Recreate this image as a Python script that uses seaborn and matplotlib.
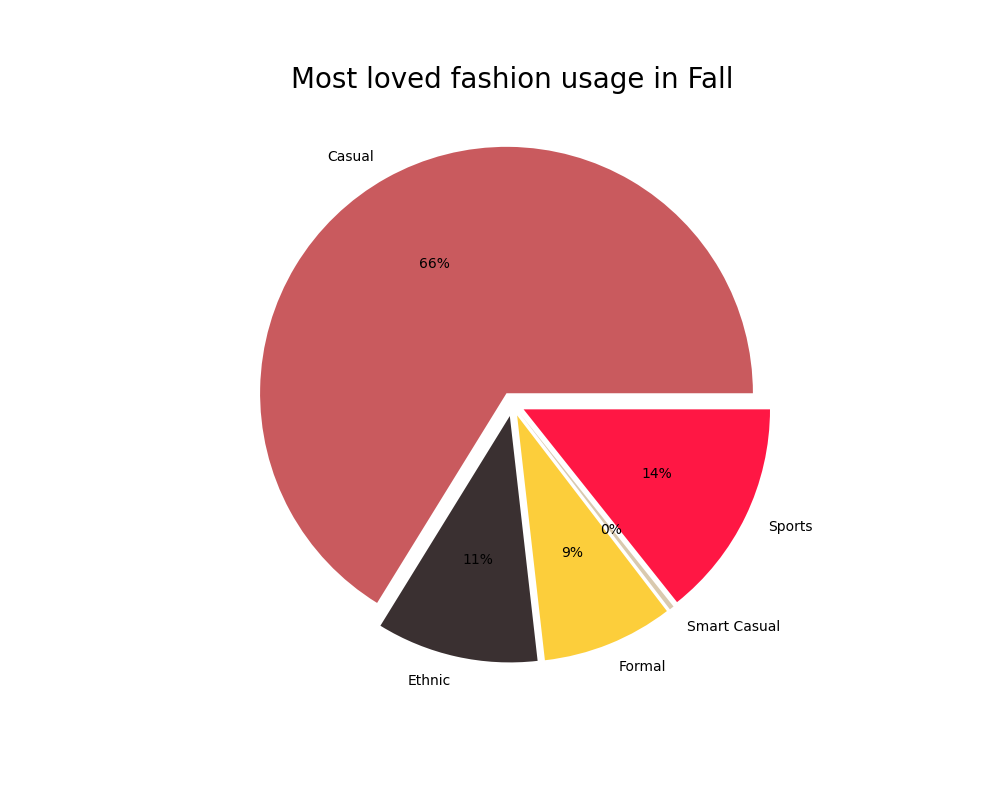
import matplotlib
matplotlib.use("Agg")
import matplotlib.pyplot as plt
import seaborn as sns

# share of items per usage in the Fall season
usage = ["Casual", "Ethnic", "Formal", "Smart Casual", "Sports"]
share = [66.2, 10.6, 8.6, 0.3, 14.3]
colors = ["#C95A5E", "#3A3031", "#FCCE3B", "#D9C9AE", "#FF1744"]
explode = [0.05, 0.05, 0.05, 0.05, 0.05]


def FallUsagePie():
    palette = sns.color_palette(colors)
    plt.figure(figsize=(10, 8), dpi=100)
    plt.pie(share, labels=usage, colors=palette, explode=explode, autopct="%.0f%%")
    plt.title("Most loved fashion usage in Fall", fontsize=20)
    plt.savefig("out.png")


def main():
    FallUsagePie()


if __name__ == "__main__":
    main()
